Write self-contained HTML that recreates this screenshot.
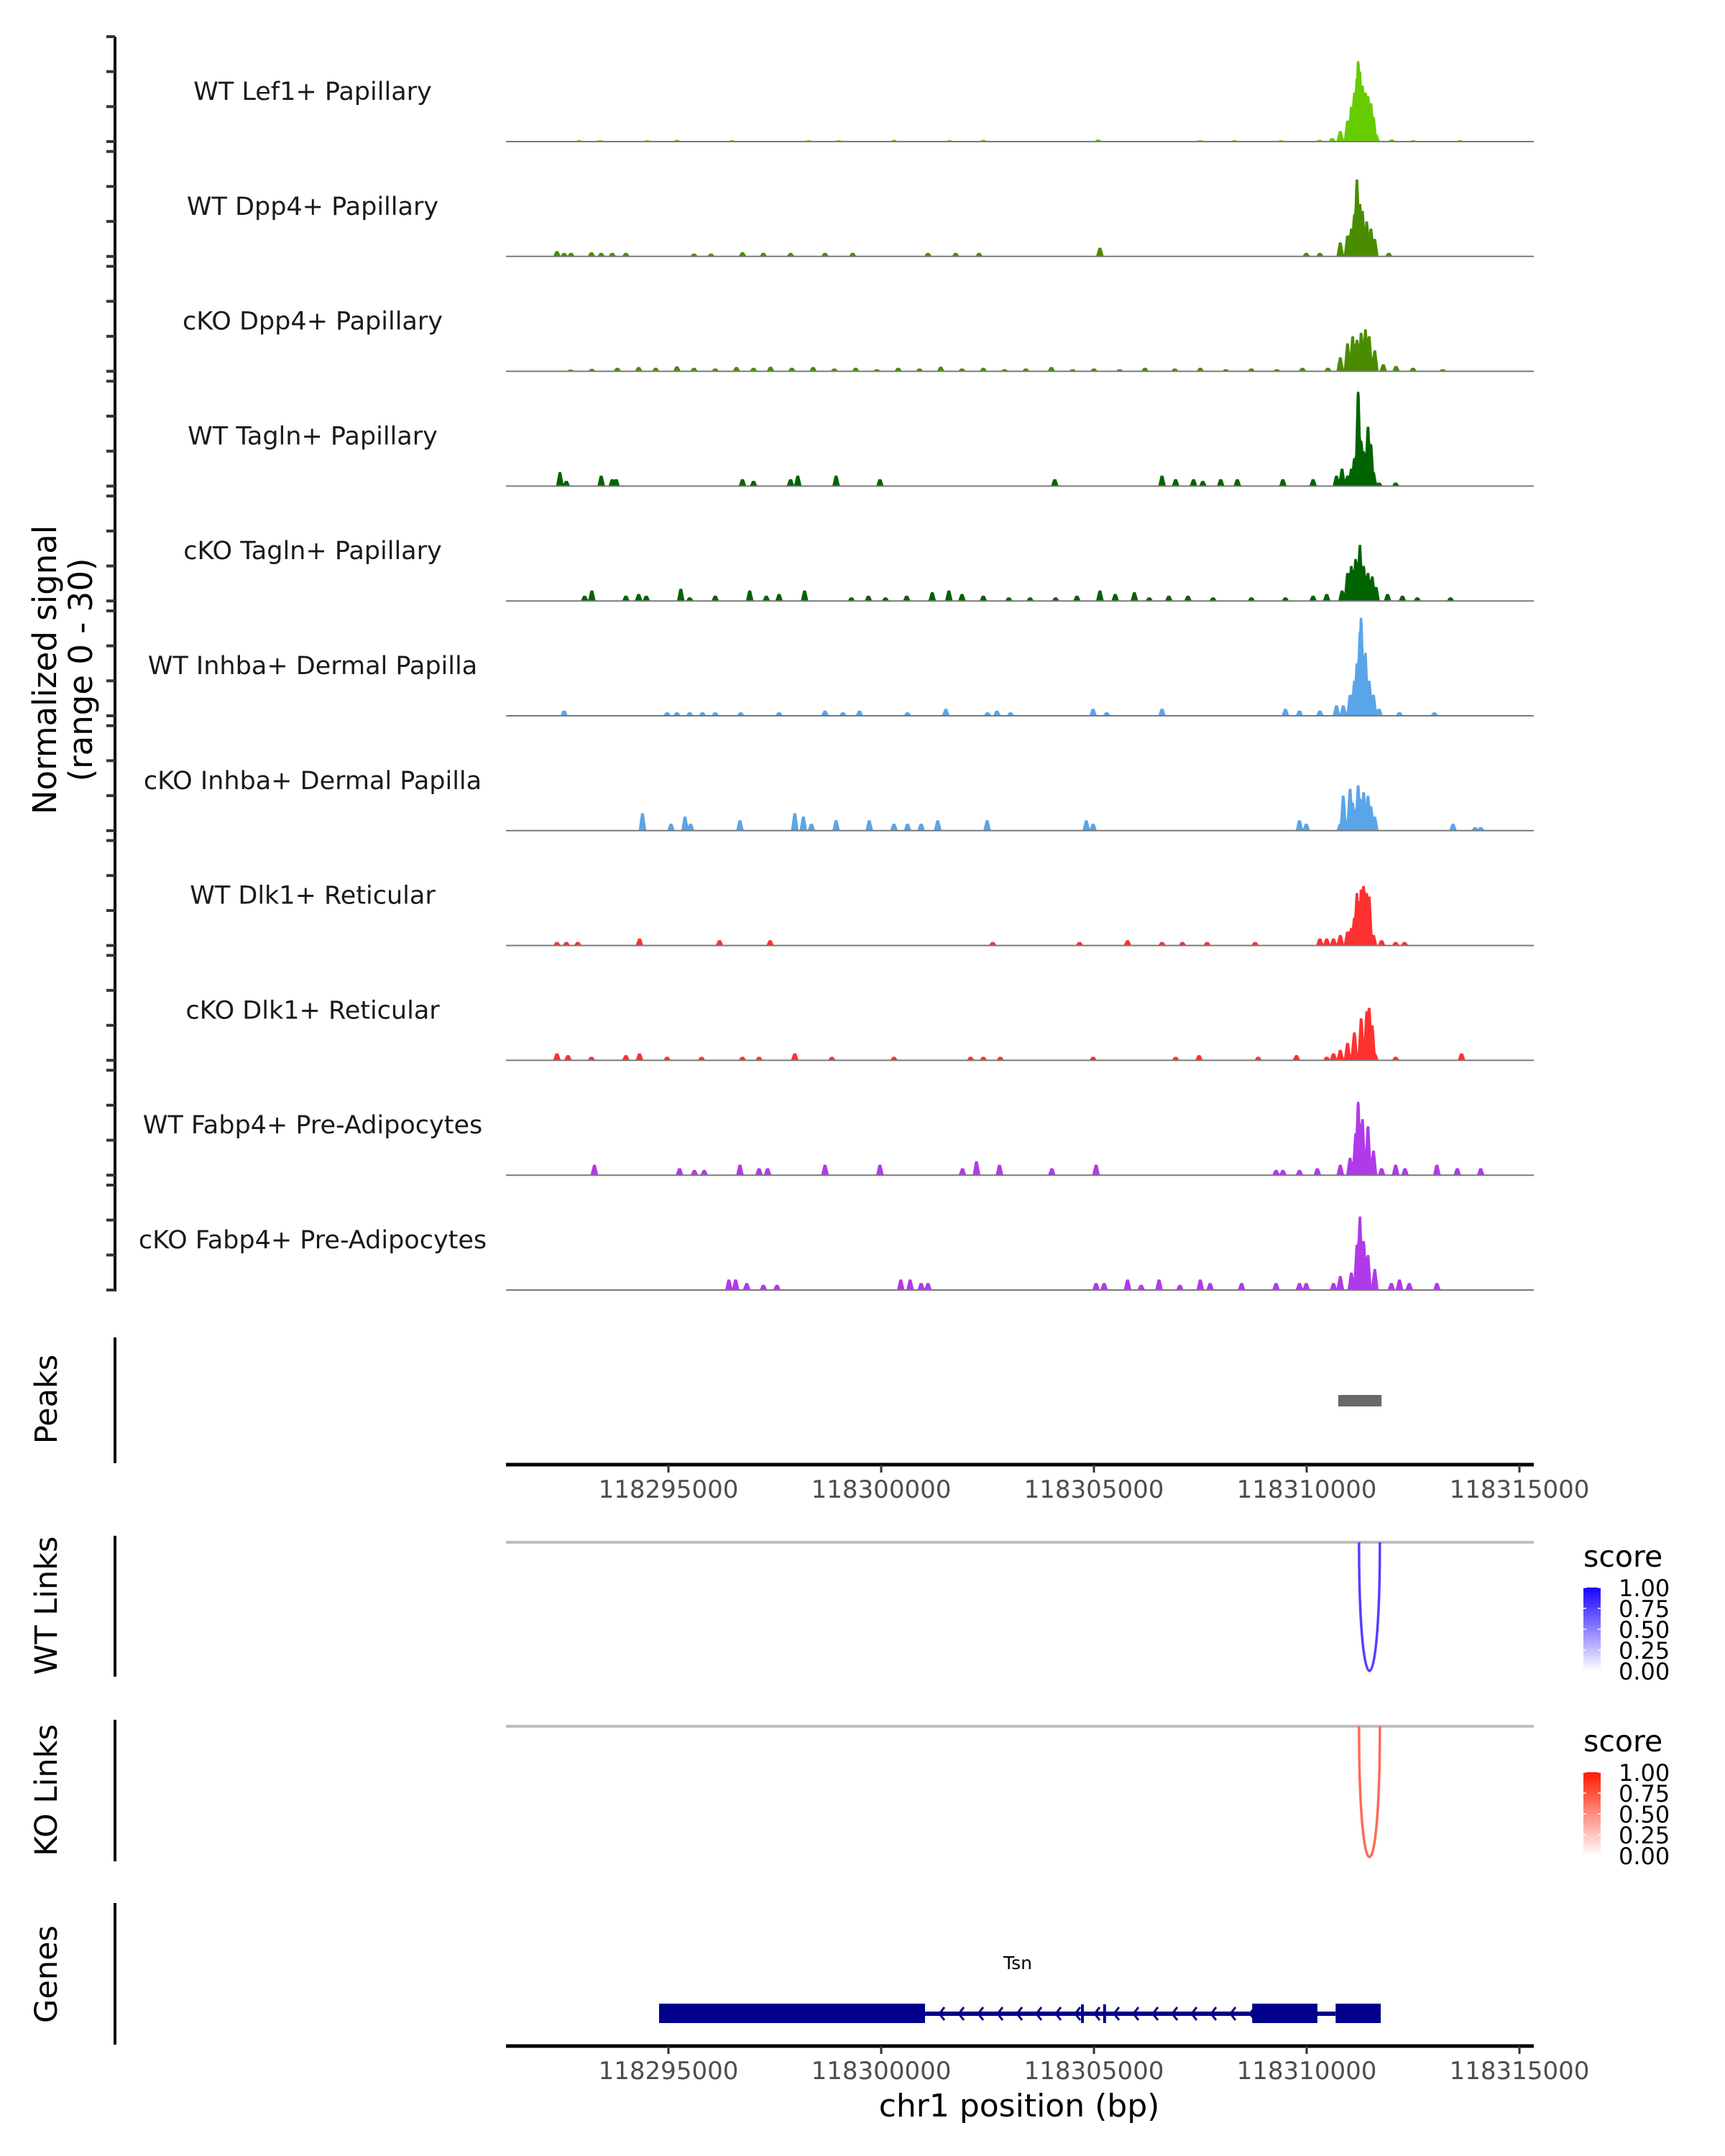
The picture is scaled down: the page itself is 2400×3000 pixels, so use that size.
<!DOCTYPE html>
<html><head><meta charset="utf-8"><style>
html,body{margin:0;padding:0;background:#fff;}
svg{display:block;font-family:"DejaVu Sans","Liberation Sans",sans-serif;}
</style></head><body>
<svg id="fig" width="2400" height="3000" viewBox="0 0 2400 3000" xmlns="http://www.w3.org/2000/svg">
<rect width="2400" height="3000" fill="#fff"/>
<g id="tracks"></g>
<g id="lower"></g>
</svg>
<script>
// genomic coordinates are kb offsets from 118290000
const trackNames = ["WT Lef1+ Papillary","WT Dpp4+ Papillary","cKO Dpp4+ Papillary","WT Tagln+ Papillary","cKO Tagln+ Papillary","WT Inhba+ Dermal Papilla","cKO Inhba+ Dermal Papilla","WT Dlk1+ Reticular","cKO Dlk1+ Reticular","WT Fabp4+ Pre-Adipocytes","cKO Fabp4+ Pre-Adipocytes"];
const trackColors = ["#66cc00","#4a8c00","#4a8c00","#006400","#006400","#5aa5e8","#5aa5e8","#ff3030","#ff3030","#b03ae8","#b03ae8"];
const t1Pos=[2.9,3.4,4.5,5.2,6.5,8.3,9.0,10.3,11.6,12.4,15.1,17.5,18.3,19.4,20.3,20.6,20.79,20.96,21.05,21.12,21.18,21.21,21.25,21.31,21.38,21.44,21.51,21.57,21.63,22.0,22.5,23.6];
const t1Val=[0.4,0.4,0.4,0.5,0.4,0.4,0.4,0.5,0.4,0.5,0.6,0.4,0.4,0.4,0.5,1,3,6,10,14,18,23,20,16,14,13,11,7,2,0.6,0.4,0.4];
const t2Pos=[2.38,2.55,2.71,3.19,3.42,3.68,4.0,5.6,6.0,6.74,7.23,7.87,8.68,9.33,11.1,11.75,12.3,15.14,19.99,20.31,20.79,20.96,21.05,21.12,21.18,21.25,21.31,21.41,21.51,21.6,21.93];
const t2Val=[1.5,1,1,1.2,1,1,1,0.8,0.8,1.2,1,1,1,1,1,1,1,2.5,1,1,4,6,8,12,22,15,13,10,8,5,1];
const t3Pos=[2.7,3.2,3.8,4.3,4.7,5.2,5.6,6.1,6.6,7.0,7.4,7.9,8.4,8.9,9.4,9.9,10.4,10.9,11.4,11.9,12.4,12.9,13.4,14.0,14.5,15.0,15.6,16.2,16.9,17.5,18.1,18.7,19.3,19.9,20.5,20.79,20.96,21.08,21.18,21.28,21.38,21.47,21.6,21.8,22.1,22.5,23.2];
const t3Val=[0.5,0.7,1,1.2,1,1.4,1,0.8,1.2,1,1.3,1,1.2,0.8,1,0.6,1,0.8,1.3,0.8,1,0.6,0.8,1.2,0.6,0.8,0.6,1,0.8,1,0.6,0.8,0.6,1,1,4,8,10,9,11,12,10,6,2,1.5,1,0.6];
const t4Pos=[2.45,2.6,3.42,3.68,3.77,6.74,7.0,7.87,8.04,8.94,9.97,14.08,16.6,16.92,17.34,17.56,17.98,18.37,19.44,20.15,20.7,20.83,20.96,21.05,21.12,21.21,21.28,21.34,21.44,21.51,21.57,21.7,22.09];
const t4Val=[4,1.5,3,2,2,2,1.5,2,3,3,2,2,3,2,2,1.5,2,2,2,2,3,5,3,5,8,27,13,10,17,12,4,1,1];
const t5Pos=[3.03,3.2,4.0,4.3,4.48,5.29,5.5,6.1,6.91,7.3,7.6,8.2,9.3,9.7,10.1,10.6,11.2,11.59,11.9,12.4,13.0,13.5,14.1,14.6,15.14,15.5,15.95,16.3,16.76,17.21,17.8,18.7,19.5,20.15,20.47,20.83,20.96,21.05,21.15,21.25,21.34,21.44,21.54,21.63,21.9,22.25,22.6,23.38];
const t5Val=[1.5,3,1.5,2,1.5,3.5,1,1.5,3,1.5,2,3,1,1.5,1,1.5,2.5,3,2,1.5,1,1,1,1.5,3,2,2.5,1,1.5,1.5,1,1,1,1.5,2,3,8,10,12,16,10,8,7,4,2,1.5,1,1];
const t6Pos=[2.55,4.97,5.2,5.5,5.8,6.1,6.7,7.6,8.68,9.1,9.49,10.62,11.5,11.52,12.5,12.72,13.04,14.98,15.3,16.6,19.5,19.83,20.31,20.7,20.86,21.02,21.12,21.18,21.25,21.28,21.38,21.47,21.57,21.7,22.18,23.0];
const t6Val=[1.5,1,1,1,1,1,1,1,1.5,1,1.5,1,1,2,1,1.5,1,2,1,2,2,1.5,1.5,3,3,6,10,15,24,28,18,10,6,2,1,1];
const t7Pos=[4.39,5.06,5.39,5.52,6.68,7.97,8.17,8.36,8.94,9.72,10.3,10.62,10.94,11.33,12.49,14.82,14.98,19.83,19.99,20.79,20.86,21.02,21.08,21.15,21.21,21.28,21.34,21.44,21.51,21.6,23.44,23.96,24.09];
const t7Val=[5,2,4,2,3,5,4,2,3,3,2,2,2,3,3,3,2,3,2,2,10,12,8,6,13,9,11,10,7,4,2,1,1];
const t8Pos=[2.38,2.6,2.87,4.32,6.2,7.39,12.62,14.66,15.79,16.6,17.08,17.66,18.79,20.31,20.47,20.63,20.79,20.96,21.05,21.12,21.18,21.28,21.34,21.41,21.47,21.57,21.76,22.09,22.3];
const t8Val=[1,1,1,2,1.5,1.5,1,1,1.5,1,1,1,1,2,2,2,3,4,5,8,15,16,17,15,14,3,1.5,1,1];
const t9Pos=[2.38,2.64,3.19,4.0,4.32,4.97,5.78,6.74,7.13,7.97,8.84,10.3,12.1,12.4,12.8,14.98,16.92,17.47,18.86,19.76,20.47,20.63,20.79,20.96,21.12,21.28,21.41,21.47,21.54,21.6,22.09,23.64];
const t9Val=[2,1.5,1,1.5,2,1,1,1,1,2,1,1,1,1,1,1,1,1.5,1,1.5,1,2,3,5,8,12,14,15,10,2,1,2];
const t10Pos=[3.26,5.26,5.61,5.84,6.68,7.13,7.33,8.68,9.97,11.91,12.24,12.78,14.01,15.05,19.28,19.44,19.83,20.25,20.79,21.02,21.15,21.21,21.31,21.44,21.57,21.76,22.09,22.31,23.06,23.54,24.09];
const t10Val=[3,2,1.5,1.5,3,2,2,3,3,2,4,3,2,3,1.5,1.5,1.5,2,3,5,12,21,16,14,7,2,3,2,3,2,2];
const t11Pos=[6.42,6.58,6.84,7.23,7.55,10.46,10.68,10.94,11.1,15.05,15.24,15.79,16.11,16.53,17.02,17.5,17.73,18.47,19.28,19.83,19.99,20.63,20.79,21.05,21.18,21.25,21.34,21.44,21.6,21.99,22.18,22.41,23.06];
const t11Val=[3,3,2,1.5,1.5,3,3,2,2,2,2,3,1.5,3,1.5,3,2,2,2,2,2,2,4,5,13,21,14,10,6,2,3,2,2];
const trackPos=[t1Pos,t2Pos,t3Pos,t4Pos,t5Pos,t6Pos,t7Pos,t8Pos,t9Pos,t10Pos,t11Pos];
const trackVal=[t1Val,t2Val,t3Val,t4Val,t5Val,t6Val,t7Val,t8Val,t9Val,t10Val,t11Val];
const xTicks=[5,10,15,20,25];
const xTickLabels=["118295000","118300000","118305000","118310000","118315000"];
const yTicks=[0,10,20,30];
const peakStart=[20.74], peakEnd=[21.76];
const wtLinkStart=[21.23], wtLinkEnd=[21.72], wtLinkScore=[0.75];
const koLinkStart=[21.23], koLinkEnd=[21.72], koLinkScore=[0.65];
const legendTicks=[1.00,0.75,0.50,0.25,0.00];
const legendLabels=["1.00","0.75","0.50","0.25","0.00"];
const exonStart=[4.78,18.72,19.9,20.68];
const exonEnd=[11.03,20.25,20.25,21.74];
const intronStart=[11.03], intronEnd=[20.68];
const markerPos=[14.73,15.25];

const NS="http://www.w3.org/2000/svg";
const X0=704, X1=2134, DMIN=5-(930-704)/59.2, DMAX=5+(2134-930)/59.2;
function xs(kb){return X0+(kb-DMIN)/(DMAX-DMIN)*(X1-X0);}
const base0=197, step=159.8, trackH=146;
function ys(v,i){return base0+i*step - v/30*trackH;}
function mk(tag,attrs,parent,text){const e=document.createElementNS(NS,tag);for(const k in attrs)e.setAttribute(k,attrs[k]);if(text!==undefined)e.textContent=text;parent.appendChild(e);return e;}
const T=document.getElementById('tracks'), L=document.getElementById('lower');

let yt=mk('text',{transform:'translate(78,932) rotate(-90)','text-anchor':'middle','font-size':45,fill:'#000'},T,'Normalized signal');


let yt2=mk('text',{transform:'translate(128,932) rotate(-90)','text-anchor':'middle','font-size':45,fill:'#000'},T,'(range 0 - 30)');


let ax=mk('line',{x1:160,x2:160,y1:ys(30,0),y2:ys(0,10)+2,stroke:'#000','stroke-width':4},T);



for(let i=0;i<trackNames.length;i++){
  const g=mk('g',{},T);
  
  
  for(const v of yTicks){
    const tk=mk('line',{x1:148,x2:160,y1:ys(v,i),y2:ys(v,i),stroke:'#333','stroke-width':4},g);
    
    
  }
  const lb=mk('text',{x:435,y:base0+i*step-58,'text-anchor':'middle','font-size':35,fill:'#1a1a1a'},g,trackNames[i]);
  
  
  const P=trackPos[i], V=trackVal[i];
  let d='M'+X0+','+ys(0,i);
  for(let kb=DMIN;kb<=DMAX;kb+=0.012){
    let v=0;
    for(let j=0;j<P.length;j++){const dd=Math.abs(kb-P[j]);const w=0.09;if(dd<w){const c=V[j]*Math.min(1,(w-dd)/w*1.6);if(c>v)v=c;}}
    d+='L'+xs(kb).toFixed(1)+','+ys(v,i).toFixed(1);
  }
  d+='L'+X1+','+ys(0,i)+'Z';
  const ar=mk('path',{d:d,fill:trackColors[i]},g);
  
  
  const bl=mk('line',{x1:X0,x2:X1,y1:ys(0,i),y2:ys(0,i),stroke:'#7a7a7a','stroke-width':2},g);
  
  
}

function panelLabel(txt,cy,y1,y2,name){
  const t=mk('text',{transform:'translate(79,'+cy+') rotate(-90)','text-anchor':'middle','font-size':43,fill:'#000'},L,txt);
  
  
  const l=mk('line',{x1:160,x2:160,y1:y1,y2:y2,stroke:'#000','stroke-width':4},L);
  
  
}
function xAxis(y,name){
  const l=mk('line',{x1:X0,x2:X1,y1:y,y2:y,stroke:'#000','stroke-width':5},L);
  
  
  for(let k=0;k<xTicks.length;k++){
    const t=mk('line',{x1:xs(xTicks[k]),x2:xs(xTicks[k]),y1:y,y2:y+11,stroke:'#333','stroke-width':3},L);
    
    
    const tl=mk('text',{x:xs(xTicks[k]),y:y+46,'text-anchor':'middle','font-size':34,fill:'#4d4d4d'},L,xTickLabels[k]);
    
    
  }
}
panelLabel('Peaks',1947,1861,2036,'peaks');
for(let k=0;k<peakStart.length;k++){
  const r=mk('rect',{x:xs(peakStart[k]),y:1941,width:xs(peakEnd[k])-xs(peakStart[k]),height:16,fill:'#696969'},L);
  
  
}
xAxis(2038,'peaks-x-axis');

function mix(a,b,t){const pa=[1,3,5].map(i=>parseInt(a.substr(i,2),16)),pb=[1,3,5].map(i=>parseInt(b.substr(i,2),16));return 'rgb('+pa.map((v,i)=>Math.round(v+(pb[i]-v)*t)).join(',')+')';}
function links(top,bottom,S,E,SC,c0,c1,name,legY){
  const bl=mk('line',{x1:X0,x2:X1,y1:top,y2:top,stroke:'#bebebe','stroke-width':4},L);
  
  
  for(let k=0;k<S.length;k++){
    const c=top+(bottom-top)/0.75;
    const col=mix(c0,c1,SC[k]);
    const p=mk('path',{d:`M${xs(S[k])},${top} C${xs(S[k])},${c} ${xs(E[k])},${c} ${xs(E[k])},${top}`,fill:'none',stroke:col,'stroke-width':3.5},L);
    
    
  }
  const st=mk('text',{x:2203,y:legY,'font-size':41,fill:'#000'},L,'score');
  
  
  const gid='grad'+name;
  const defs=mk('defs',{},L);
  const lg=mk('linearGradient',{id:gid,x1:0,y1:1,x2:0,y2:0},defs);
  mk('stop',{offset:0,'stop-color':c0},lg);mk('stop',{offset:1,'stop-color':c1},lg);
  const by=legY+29, bh=116;
  const bar=mk('rect',{x:2203,y:by,width:24,height:bh,fill:`url(#${gid})`},L);
  
  
  for(let k=0;k<legendTicks.length;k++){
    const yy=by+bh*(1-legendTicks[k]);
    mk('line',{x1:2203,x2:2207,y1:yy,y2:yy,stroke:'#fff','stroke-width':1.5},L);
    mk('line',{x1:2223,x2:2227,y1:yy,y2:yy,stroke:'#fff','stroke-width':1.5},L);
    const tl=mk('text',{x:2252,y:yy+12,'font-size':32,fill:'#000'},L,legendLabels[k]);
    
    
  }
}
panelLabel('WT Links',2234,2137,2333,'wt-links');
links(2146,2325,wtLinkStart,wtLinkEnd,wtLinkScore,'#ffffff','#1a00ff','wt-links',2180);
panelLabel('KO Links',2491,2393,2590,'ko-links');
links(2402,2584,koLinkStart,koLinkEnd,koLinkScore,'#ffffff','#ff1a00','ko-links',2437);

panelLabel('Genes',2747,2648,2845,'genes');
const gg=mk('g',{},L);


const gy=2802;
for(let k=0;k<intronStart.length;k++){
  mk('line',{x1:xs(intronStart[k]),x2:xs(intronEnd[k]),y1:gy,y2:gy,stroke:'#00008b','stroke-width':6},gg);
  for(let x=xs(intronStart[k])+22;x<xs(intronEnd[k])-10;x+=27){
    mk('polyline',{points:`${x+5},${gy-9} ${x-2},${gy} ${x+5},${gy+9}`,fill:'none',stroke:'#00008b','stroke-width':3},gg);
  }
}
for(let k=0;k<exonStart.length;k++){
  const e=mk('rect',{x:xs(exonStart[k]),y:2788,width:xs(exonEnd[k])-xs(exonStart[k]),height:27,fill:'#00008b'},gg);
  
  
}
for(const m of markerPos){mk('rect',{x:xs(m)-2,y:2789,width:4,height:26,fill:'#00008b'},gg);}
const tsn=mk('text',{x:1416,y:2740,'text-anchor':'middle','font-size':25,fill:'#000'},gg,'Tsn');


xAxis(2847,'genes-x-axis');
const xt=mk('text',{x:1418,y:2945,'text-anchor':'middle','font-size':44,fill:'#000'},L,'chr1 position (bp)');


</script>
</body></html>
